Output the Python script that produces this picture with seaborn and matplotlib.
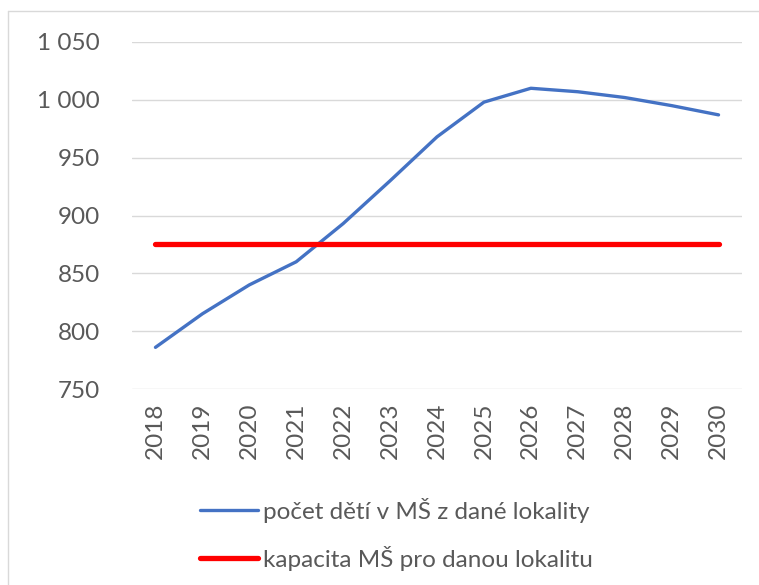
import pandas as pd
import numpy as np
import matplotlib
matplotlib.use('Agg')
import matplotlib.pyplot as plt
from matplotlib.ticker import FuncFormatter
from matplotlib.lines import Line2D
import seaborn as sns

# data
years = [2018, 2019, 2020, 2021, 2022, 2023, 2024, 2025, 2026, 2027, 2028, 2029, 2030]
children = [786, 815, 840, 860, 893, 930, 968, 998, 1010, 1007, 1002, 995, 987]
capacity = [875] * len(years)

label_children = 'počet dětí v MŠ z dané lokality'
label_capacity = 'kapacita MŠ pro danou lokalitu'

sns.set_theme(style='white')
plt.rcParams['font.family'] = ['Lato', 'DejaVu Sans']

df = pd.DataFrame({'year': years, 'children': children, 'capacity': capacity})

fig = plt.figure(figsize=(7.59, 5.85), dpi=100)
ax = fig.add_axes([132 / 759, 1 - 389 / 585, (742 - 132) / 759, (389 - 42) / 585])

sns.lineplot(data=df, x='year', y='children', ax=ax, color='#4472C4', linewidth=2.4,
             label=label_children, legend=False)
sns.lineplot(data=df, x='year', y='capacity', ax=ax, color='#FF0000', linewidth=3.8,
             label=label_capacity, legend=False, solid_capstyle='round')

ax.set_xlim(years[0] - 0.5, years[-1] + 0.5)
ax.set_ylim(750, 1050)
ax.set_yticks(np.arange(750, 1051, 50))
ax.set_xticks(years)
ax.set_xticklabels([str(y) for y in years], rotation=90)
ax.yaxis.set_major_formatter(FuncFormatter(lambda v, p: f'{int(v):,}'.replace(',', ' ')))
ax.grid(axis='y', color='#D9D9D9', linewidth=1.0)
ax.set_axisbelow(True)
for s in ax.spines.values():
    s.set_visible(False)
ax.tick_params(axis='both', length=0, labelsize=17.5, labelcolor='#595959')
ax.tick_params(axis='y', pad=23)
ax.tick_params(axis='x', pad=10)
ax.set_xlabel('')
ax.set_ylabel('')

handles = [Line2D([0], [0], color='#4472C4', linewidth=2.4),
           Line2D([0], [0], color='#FF0000', linewidth=3.8, solid_capstyle='round')]
leg = fig.legend(handles, [label_children, label_capacity], loc='upper left',
                 bbox_to_anchor=(178 / 759, 1 - 476 / 585), frameon=False,
                 fontsize=17.5, handlelength=2.4, handletextpad=0.2, labelspacing=0.95)
for t in leg.get_texts():
    t.set_color('#595959')

# chart border (partially visible in the original)
fig.add_artist(Line2D([8 / 759, 1], [1 - 11 / 585, 1 - 11 / 585], color='#D9D9D9',
                      linewidth=1.0, transform=fig.transFigure))
fig.add_artist(Line2D([8 / 759, 8 / 759], [0, 1 - 11 / 585], color='#D9D9D9',
                      linewidth=1.0, transform=fig.transFigure))

fig.savefig('out.png', dpi=100)
